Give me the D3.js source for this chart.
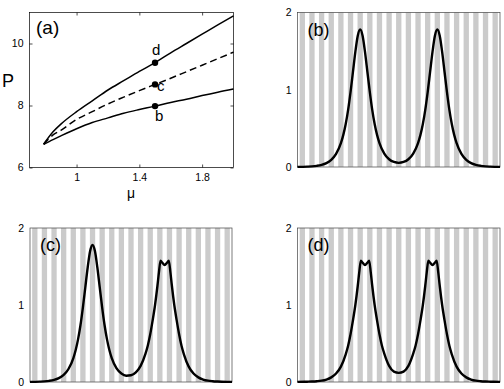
<!DOCTYPE html>
<html>
<head>
<meta charset="utf-8">
<script src="https://cdn.jsdelivr.net/npm/d3@7"></script>
<style>
  body { margin: 0; background: #fff; }
  svg { display: block; font-family: "Liberation Sans", Arial, sans-serif; }
  .axis path, .axis line { stroke: #000; stroke-width: 0.7; }
  .axis text { font-size: 10.5px; fill: #000; }
</style>
</head>
<body>
<svg id="chart" width="504" height="389"></svg>
<script>
// ---- panel (a): branches P(mu) ----
var muB = [0.79, 0.85, 0.9, 1.0, 1.1, 1.2, 1.3, 1.4, 1.5, 1.6, 1.7, 1.8, 1.9, 2.0];
var branchD = [6.75, 7.15, 7.4, 7.8, 8.15, 8.5, 8.8, 9.1, 9.38, 9.7, 10.0, 10.3, 10.6, 10.89];
var branchC = [6.75, 7.05, 7.2, 7.55, 7.8, 8.05, 8.27, 8.48, 8.68, 8.88, 9.09, 9.3, 9.51, 9.72];
var branchB = [6.75, 6.9, 7.02, 7.25, 7.45, 7.6, 7.75, 7.87, 7.98, 8.1, 8.2, 8.32, 8.43, 8.53];
var marks = [{mu: 1.5, p: 9.38, name: "d"}, {mu: 1.5, p: 8.68, name: "c"}, {mu: 1.5, p: 7.98, name: "b"}];
var muTicks = [1, 1.4, 1.8];
var pTicks = [6, 8, 10];

// ---- panels (b),(c),(d): profiles |u|^2 vs x ----
var xB = [-10.5, -9.5, -9, -8.5, -8, -7.5, -7, -6.5, -6, -5.75, -5.5, -5.25, -5, -4.75, -4.5, -4.25, -4,
          -3.75, -3.5, -3.25, -3, -2.75, -2.5, -2.25, -2, -1.5, -1, -0.5, 0,
          0.5, 1, 1.5, 2, 2.25, 2.5, 2.75, 3, 3.25, 3.5, 3.75, 4,
          4.25, 4.5, 4.75, 5, 5.25, 5.5, 5.75, 6, 6.5, 7, 7.5, 8, 8.5, 9, 9.5, 10.5];
var yB = [0.001, 0.0045, 0.008, 0.015, 0.027, 0.05, 0.092, 0.169, 0.308, 0.416, 0.557, 0.74, 0.97, 1.23, 1.49, 1.70, 1.78,
          1.70, 1.49, 1.23, 0.97, 0.74, 0.557, 0.416, 0.31, 0.174, 0.1, 0.065, 0.054,
          0.065, 0.1, 0.174, 0.31, 0.416, 0.557, 0.74, 0.97, 1.23, 1.49, 1.70, 1.78,
          1.70, 1.49, 1.23, 0.97, 0.74, 0.557, 0.416, 0.308, 0.169, 0.092, 0.05, 0.027, 0.015, 0.008, 0.0045, 0.001];

var xC = [-10.5, -9.5, -9, -8.5, -8, -7.5, -7, -6.5, -6, -5.75, -5.5, -5.25, -5, -4.75, -4.5, -4.25, -4,
          -3.75, -3.5, -3.25, -3, -2.75, -2.5, -2.25, -2, -1.5, -1, -0.5, 0,
          0.5, 1, 1.5, 1.75, 2, 2.25, 2.5, 2.75, 2.9, 3.07, 3.25, 3.5, 3.75, 3.93,
          4.1, 4.25, 4.5, 4.75, 5, 5.25, 5.5, 6, 6.5, 7, 7.5, 8, 8.5, 9, 10, 10.5];
var yC = [0.001, 0.0045, 0.008, 0.015, 0.027, 0.05, 0.092, 0.169, 0.308, 0.416, 0.557, 0.74, 0.97, 1.23, 1.49, 1.70, 1.78,
          1.70, 1.49, 1.23, 0.97, 0.74, 0.557, 0.416, 0.31, 0.176, 0.11, 0.082, 0.088,
          0.125, 0.21, 0.365, 0.475, 0.62, 0.8, 1.0, 1.25, 1.42, 1.575, 1.55, 1.52, 1.55, 1.575,
          1.42, 1.25, 1.0, 0.8, 0.62, 0.47, 0.36, 0.2, 0.11, 0.06, 0.032, 0.017, 0.01, 0.006, 0.002, 0.001];

var xD = [-10.5, -9.5, -9, -8.5, -8, -7.5, -7, -6.5, -6, -5.5, -5.25, -5, -4.75, -4.5, -4.25, -4.1, -3.93,
          -3.75, -3.5, -3.25, -3.07, -2.9, -2.75, -2.5, -2.25, -2, -1.75, -1.5, -1, -0.5, 0,
          0.5, 1, 1.5, 1.75, 2, 2.25, 2.5, 2.75, 2.9, 3.07, 3.25, 3.5, 3.75, 3.93,
          4.1, 4.25, 4.5, 4.75, 5, 5.25, 5.5, 6, 6.5, 7, 7.5, 8, 8.5, 9, 9.5, 10.5];
var yD = [0.001, 0.004, 0.006, 0.01, 0.017, 0.032, 0.06, 0.11, 0.2, 0.36, 0.47, 0.62, 0.8, 1.0, 1.25, 1.42, 1.575,
          1.55, 1.52, 1.55, 1.575, 1.42, 1.25, 1.0, 0.8, 0.62, 0.475, 0.37, 0.21, 0.135, 0.118,
          0.135, 0.21, 0.37, 0.475, 0.62, 0.8, 1.0, 1.25, 1.42, 1.575, 1.55, 1.52, 1.55, 1.575,
          1.42, 1.25, 1.0, 0.8, 0.62, 0.47, 0.36, 0.2, 0.11, 0.06, 0.032, 0.017, 0.01, 0.006, 0.004, 0.001];

var latticeSites = d3.range(-10, 11);   // gray stripe centres
var stripeWidth = 0.55;
var uTicks = [0, 1, 2];

var svg = d3.select("#chart");
svg.append("rect").attr("width", 504).attr("height", 389).attr("fill", "#fff");

// plain tick text: 1, 1.4, 10 ... (no trailing .0)
var plain = function(d) { return String(d); };

//-------------------------------------------------------------
// panel (a)
//-------------------------------------------------------------
var xa = d3.scaleLinear().domain([0.7, 2.0]).range([29.5, 233.5]);
var ya = d3.scaleLinear().domain([6, 11]).range([167.5, 12.5]);
var ga = svg.append("g");

ga.append("rect").attr("x", 29.5).attr("y", 12.5).attr("width", 204).attr("height", 155)
    .attr("fill", "none").attr("stroke", "#000").attr("stroke-width", 0.7);

ga.append("g").attr("class", "axis").attr("transform", "translate(0,167.5)")
    .call(d3.axisBottom(xa).tickValues(muTicks).tickSize(-3).tickPadding(6).tickFormat(plain));
ga.append("g").attr("class", "axis").attr("transform", "translate(0,12.5)")
    .call(d3.axisTop(xa).tickValues(muTicks).tickSize(-3).tickFormat(""));
ga.append("g").attr("class", "axis").attr("transform", "translate(29.5,0)")
    .call(d3.axisLeft(ya).tickValues(pTicks).tickSize(-3).tickPadding(6).tickFormat(plain));
ga.append("g").attr("class", "axis").attr("transform", "translate(233.5,0)")
    .call(d3.axisRight(ya).tickValues(pTicks).tickSize(-3).tickFormat(""));
ga.selectAll(".axis .domain").remove();

var lineA = d3.line().x(function(d) { return xa(d[0]); }).y(function(d) { return ya(d[1]); }).curve(d3.curveMonotoneX);

[branchD, branchC, branchB].forEach(function(br, i) {
    ga.append("path")
        .datum(d3.zip(muB, br))
        .attr("d", lineA)
        .attr("fill", "none")
        .attr("stroke", "#000")
        .attr("stroke-width", 1.5)
        .attr("stroke-dasharray", i == 1 ? "7,4" : null);
});

ga.selectAll("circle.mk").data(marks).enter().append("circle")
    .attr("cx", function(d) { return xa(d.mu); })
    .attr("cy", function(d) { return ya(d.p); })
    .attr("r", 3.2).attr("fill", "#000");

// point labels
var lblOff = {d: [-3, -8], c: [2, 7], b: [0, 15]};
ga.selectAll("text.mk").data(marks).enter().append("text")
    .attr("x", function(d) { return xa(d.mu) + lblOff[d.name][0]; })
    .attr("y", function(d) { return ya(d.p) + lblOff[d.name][1]; })
    .attr("font-size", 15).text(function(d) { return d.name; });

ga.append("text").attr("x", 36).attr("y", 34).attr("font-size", 19).text("(a)");
ga.append("text").attr("x", 2).attr("y", 87).attr("font-size", 18).text("P");
ga.append("text").attr("x", 131).attr("y", 198).attr("font-size", 14).attr("text-anchor", "middle").text("\u03bc");

//-------------------------------------------------------------
// stripe panels
//-------------------------------------------------------------
function profilePanel(x0, x1, y0, y1, xs, ys, label) {
    var x = d3.scaleLinear().domain([-10.5, 10.5]).range([x0, x1]);
    var y = d3.scaleLinear().domain([0, 2]).range([y1, y0]);
    var g = svg.append("g");

    g.selectAll("rect.st").data(latticeSites).enter().append("rect")
        .attr("x", function(d) { return x(d - stripeWidth / 2); })
        .attr("width", x(stripeWidth) - x(0))
        .attr("y", y0).attr("height", y1 - y0)
        .attr("fill", "#cbcbcb");

    g.append("rect").attr("x", x0).attr("y", y0).attr("width", x1 - x0).attr("height", y1 - y0)
        .attr("fill", "none").attr("stroke", "#444").attr("stroke-width", 0.7);

    var ax = g.append("g").attr("class", "axis").attr("transform", "translate(" + x0 + ",0)")
        .call(d3.axisLeft(y).tickValues(uTicks).tickSize(0).tickPadding(6).tickFormat(plain));
    ax.select(".domain").remove();
    ax.selectAll("text").attr("font-size", "12px");

    var line = d3.line().x(function(d) { return x(d[0]); }).y(function(d) { return y(d[1]); })
        .curve(d3.curveMonotoneX);
    g.append("path").datum(d3.zip(xs, ys)).attr("d", line)
        .attr("fill", "none").attr("stroke", "#000").attr("stroke-width", 2.4)
        .attr("stroke-linejoin", "round");

    g.append("text").attr("x", x0 + 10).attr("y", y0 + 23).attr("font-size", 18).text(label);
}

profilePanel(297.5, 500, 12.5, 167, xB, yB, "(b)");
profilePanel(30, 232, 228, 382, xC, yC, "(c)");
profilePanel(297.5, 500, 228, 382, xD, yD, "(d)");
</script>
</body>
</html>
